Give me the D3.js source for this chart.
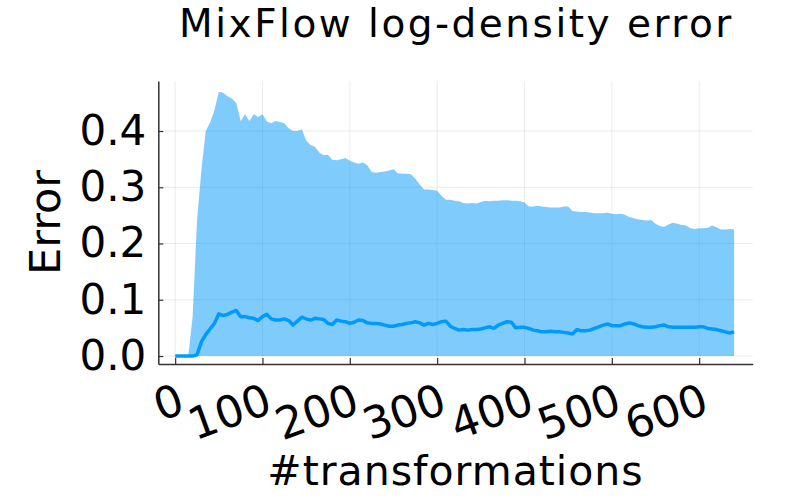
<!DOCTYPE html>
<html>
<head>
<meta charset="utf-8">
<style>
  body { margin: 0; background: #fff; }
  text { font-family: "DejaVu Sans", sans-serif; }
</style>
</head>
<body>
<div id="chart"></div>

<script src="https://cdnjs.cloudflare.com/ajax/libs/d3/7.8.5/d3.min.js"></script>
<script>
  // chart size
  const width = 800;
  const height = 500;

  // iterations are sampled every 5 steps, 0..640
  const steps = d3.range(0, 641, 5);

  // upper edge of the error band (lower edge is 0)
  const upper = [
    0, 0, 0, 0, 0.07, 0.24, 0.33, 0.40, 0.415, 0.437,
    0.47, 0.468, 0.462, 0.458, 0.45, 0.418, 0.43, 0.418, 0.43, 0.425,
    0.43, 0.417, 0.414, 0.418, 0.416, 0.414, 0.405, 0.40, 0.40, 0.403,
    0.383, 0.375, 0.372, 0.362, 0.357, 0.358, 0.349, 0.348, 0.35, 0.352,
    0.347, 0.344, 0.342, 0.344, 0.339, 0.327, 0.326, 0.327, 0.328, 0.33,
    0.332, 0.325, 0.324, 0.324, 0.323, 0.315, 0.305, 0.296, 0.296, 0.295,
    0.294, 0.285, 0.278, 0.278, 0.276, 0.275, 0.272, 0.271, 0.272, 0.271,
    0.274, 0.276, 0.275, 0.276, 0.276, 0.277, 0.277, 0.276, 0.276, 0.275,
    0.273, 0.266, 0.266, 0.267, 0.266, 0.265, 0.264, 0.264, 0.264, 0.266,
    0.266, 0.258, 0.257, 0.256, 0.256, 0.255, 0.254, 0.254, 0.254, 0.255,
    0.253, 0.252, 0.253, 0.251, 0.247, 0.245, 0.243, 0.242, 0.241, 0.242,
    0.235, 0.231, 0.23, 0.234, 0.237, 0.235, 0.233, 0.232, 0.227, 0.226,
    0.227, 0.227, 0.228, 0.232, 0.229, 0.225, 0.225, 0.226, 0.225
  ];

  // mean error
  const mean = [
    0, 0, 0, 0, 0, 0.002, 0.025, 0.038, 0.048, 0.058,
    0.075, 0.072, 0.074, 0.078, 0.081, 0.07, 0.07, 0.068, 0.067, 0.063,
    0.07, 0.074, 0.066, 0.064, 0.064, 0.066, 0.063, 0.055, 0.062, 0.069,
    0.066, 0.064, 0.067, 0.066, 0.065, 0.058, 0.056, 0.064, 0.062, 0.061,
    0.058, 0.06, 0.064, 0.063, 0.059, 0.058, 0.058, 0.057, 0.055, 0.053,
    0.053, 0.055, 0.056, 0.058, 0.059, 0.061, 0.059, 0.055, 0.058, 0.056,
    0.058, 0.061, 0.062, 0.053, 0.049, 0.046, 0.047, 0.046, 0.047, 0.047,
    0.048, 0.05, 0.052, 0.049, 0.055, 0.058, 0.061, 0.06, 0.05, 0.051,
    0.051, 0.049, 0.046, 0.045, 0.043, 0.043, 0.044, 0.043, 0.043, 0.042,
    0.041, 0.039, 0.047, 0.045, 0.045, 0.046, 0.049, 0.052, 0.055, 0.057,
    0.054, 0.054, 0.054, 0.057, 0.059, 0.057, 0.054, 0.052, 0.051, 0.051,
    0.052, 0.054, 0.055, 0.052, 0.051, 0.051, 0.051, 0.051, 0.051, 0.051,
    0.052, 0.052, 0.049, 0.048, 0.047, 0.045, 0.043, 0.041, 0.043
  ];

  // ticks
  const xTicks = [0, 100, 200, 300, 400, 500, 600];
  const yTicks = [0.0, 0.1, 0.2, 0.3, 0.4];

  const data = steps.map((s, i) => ({x: s, hi: upper[i], m: mean[i]}));

  // plot area
  const plotLeft = 158.3, plotRight = 752.7, plotTop = 81, plotBottom = 364;
  const color = "#009AFA";

  const x = d3.scaleLinear().domain([-19.3, 661.3]).range([plotLeft, plotRight]);
  const y = d3.scaleLinear().domain([-0.0142, 0.4889]).range([plotBottom, plotTop]);

  const svg = d3.create("svg")
    .attr("width", width)
    .attr("height", height)
    .attr("viewBox", [0, 0, width, height]);

  svg.append("rect").attr("width", width).attr("height", height).attr("fill", "#fff");

  // grid lines
  svg.append("g")
    .selectAll("line")
    .data(yTicks)
    .join("line")
    .attr("x1", plotLeft).attr("x2", plotRight)
    .attr("y1", d => y(d)).attr("y2", d => y(d))
    .attr("stroke", "#000").attr("stroke-opacity", 0.08).attr("stroke-width", 1);

  svg.append("g")
    .selectAll("line")
    .data(xTicks)
    .join("line")
    .attr("x1", d => x(d)).attr("x2", d => x(d))
    .attr("y1", plotTop).attr("y2", plotBottom)
    .attr("stroke", "#000").attr("stroke-opacity", 0.08).attr("stroke-width", 1);

  // error band
  svg.append("path")
    .datum(data)
    .attr("fill", color)
    .attr("fill-opacity", 0.5)
    .attr("d", d3.area().x(d => x(d.x)).y0(y(0)).y1(d => y(d.hi)));

  // mean line
  svg.append("path")
    .datum(data)
    .attr("fill", "none")
    .attr("stroke", color)
    .attr("stroke-width", 3.5)
    .attr("stroke-linejoin", "round")
    .attr("d", d3.line().x(d => x(d.x)).y(d => y(d.m)));

  // axes
  const yAxis = svg.append("g")
    .attr("transform", `translate(${plotLeft},0)`)
    .call(d3.axisLeft(y).tickValues(yTicks).tickFormat(d3.format(".1f"))
      .tickSize(-5).tickSizeOuter(0).tickPadding(12));
  yAxis.selectAll("text")
    .attr("font-size", 42)
    .attr("font-family", "DejaVu Sans")
    .attr("fill", "#000");

  const xAxis = svg.append("g")
    .attr("transform", `translate(0,${plotBottom})`)
    .call(d3.axisBottom(x).tickValues(xTicks).tickFormat(d3.format("d"))
      .tickSize(-6).tickSizeOuter(0));
  xAxis.selectAll("text")
    .attr("font-size", 44)
    .attr("font-family", "DejaVu Sans")
    .attr("fill", "#000")
    .attr("text-anchor", "end")
    .attr("dy", null)
    .attr("y", null)
    .attr("dominant-baseline", "hanging")
    .attr("transform", "translate(0,17) rotate(-20)");

  svg.selectAll(".domain").attr("stroke", "#333").attr("stroke-width", 1.5);
  svg.selectAll(".tick line").attr("stroke", "#333").attr("stroke-width", 1.2);

  // title and labels
  svg.append("text")
    .attr("x", (plotLeft + plotRight) / 2 + 1)
    .attr("y", 37)
    .attr("text-anchor", "middle")
    .attr("font-size", 39)
    .attr("letter-spacing", 2.5)
    .text("MixFlow log-density error");

  svg.append("text")
    .attr("x", (plotLeft + plotRight) / 2)
    .attr("y", 485)
    .attr("text-anchor", "middle")
    .attr("font-size", 41)
    .attr("letter-spacing", 1)
    .text("#transformations");

  svg.append("text")
    .attr("transform", `translate(60,${(plotTop + plotBottom) / 2}) rotate(-90)`)
    .attr("text-anchor", "middle")
    .attr("font-size", 43)
    .text("Error");

  d3.select("#chart").node().appendChild(svg.node());
</script>
</body>
</html>
